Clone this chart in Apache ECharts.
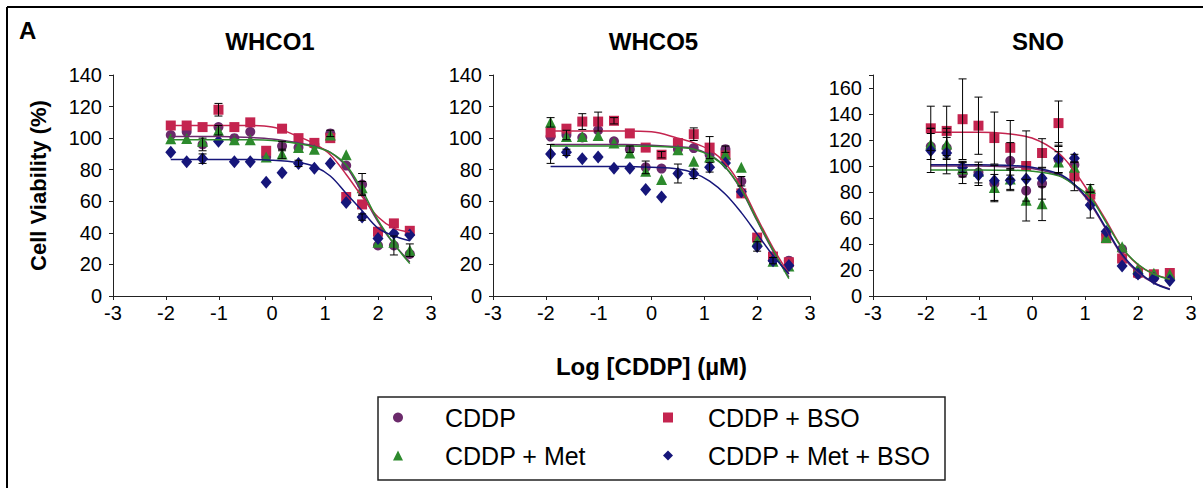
<!DOCTYPE html>
<html><head><meta charset="utf-8">
<script src="https://cdn.jsdelivr.net/npm/echarts@6/dist/echarts.min.js"></script>
<style>html,body{margin:0;padding:0;background:#fff}#c{width:1203px;height:488px}</style>
</head><body><div id="c"></div>
<script>
// ---- data ----
const logDose = [-1.91,-1.61,-1.31,-1.01,-0.71,-0.41,-0.11,0.19,0.50,0.80,1.10,1.40,1.70,2.00,2.30,2.60];
const fitX    = [-1.91,-1.0,-0.5,0,0.5,0.8,1.1,1.4,1.7,2.0,2.3,2.6];
const seriesNames = ['CDDP','CDDP + BSO','CDDP + Met','CDDP + Met + BSO'];
const panelTitles = ['WHCO1','WHCO5','SNO'];
const xTickValues = [-3,-2,-1,0,1,2,3];
const yMaxes = [140,140,170];

// WHCO1
const whco1Cddp   = [102,104,96,107,100,104,88,95,94,96,103,82.6,70.6,32,32,26.6];
const whco1Bso    = [108,108,107,118,107,110,92,106,100,97,100,62.7,58,40.7,46,41.3];
const whco1Met    = [99.6,99.8,98,105,99,99,88,90,94,93,102,89.5,68.5,34,34,29];
const whco1MetBso = [91,85,87,98,85,85,72,78,84,81,84,59.3,50,36.5,39.6,38.6];
const whco1CddpErr   = [0,0,4,0,0,0,0,3,0,0,2,0,7,0,6,0];
const whco1BsoErr    = [0,0,0,4,0,0,0,0,0,0,0,0,0,0,0,0];
const whco1MetErr    = [0,0,0,3,0,0,0,3,0,0,0,0,4,0,0,4];
const whco1MetBsoErr = [0,0,3,0,0,0,0,0,2,0,0,0,2,0,0,0];
const whco1CddpFit   = [101,101,100.5,99.5,97,95,91,82,65,47,33,21.5];
const whco1BsoFit    = [108,108,108,107,101,96.5,89.5,77,63,50,43,40.5];
const whco1MetFit    = [99,99,99,98.5,96.5,94.5,91,83,67,48,33,20.5];
const whco1MetBsoFit = [86.5,86.5,86.5,86,84.5,82,76,65,54,43,38,35];

// WHCO5
const whco5Cddp   = [101,102,100.4,105,98,93,81.5,80.7,93,93.7,89.5,93,72.7,36,23.5,22.4];
const whco5Bso    = [103.6,106,110.5,110.5,111,103,94,89.5,96.9,102.5,94,89,65,37,25,21.4];
const whco5Met    = [110,101,101,101.7,97,90.6,79,73.8,92.7,85.3,88,90,81.5,35,22,19];
const whco5MetBso = [90,91,87,88,81,81,67.5,62.7,77.6,77.4,81.5,84.3,66,31.4,22.4,19.3];
const whco5CddpErr   = [0,3,0,0,0,2,4,0,0,0,0,2,3,0,0,0];
const whco5BsoErr    = [0,0,5,6,2,0,0,2,0,4,7,0,0,0,0,0];
const whco5MetErr    = [3,0,0,0,0,0,0,0,0,0,0,0,0,0,0,0];
const whco5MetBsoErr = [6,2,0,0,0,0,0,0,6,3,3,0,0,3,2,0];
const whco5CddpFit   = [96,96,96,95.5,94.5,93.5,89.5,81.5,67,47.5,28.5,12];
const whco5BsoFit    = [104.5,104.5,104.5,104,100,97,92.5,84,69.5,49.5,30.5,14];
const whco5MetFit    = [95,95,95,94.8,94,93,89,81.5,67.5,48,29,11];
const whco5MetBsoFit = [82,82,82,81.5,80.5,78,72.7,64.4,52.8,39.2,25.6,14];

// SNO
const snoCddp   = [115,114,94.5,95,86.5,104,81,86.5,105,101,77.6,47.5,36,16.7,14,13.6];
const snoBso    = [129,127,136,131,121.5,114,100,110,133,92,78,44.4,28.8,18,16.7,17.7];
const snoMet    = [117,117,97.6,96,83.5,90,73.7,71,103,99,82.7,45,37.8,21.3,17.5,16.7];
const snoMetBso = [112,110,99,93,88.6,89,90,90.6,106,106,70,49.6,23,17,13.4,12];
const snoCddpErr   = [10,8,8,8,14,14,0,12,10,0,0,0,0,0,0,0];
const snoBsoErr    = [17,19,31,22,20,21,27,11,17,11,0,0,0,0,0,0];
const snoMetErr    = [12,12,6,0,10,8,16,13,8,0,3,0,0,0,0,0];
const snoMetBsoErr = [17,16,4,8,0,8,0,0,12,3,10,0,0,0,0,0];
const snoCddpFit   = [100,100,99.5,98,93,85,71,51,31,18,10,5.5];
const snoBsoFit    = [126,126,125,121.5,110,96,78,58,37,24,17,13];
const snoMetFit    = [97,97,96.8,96,92.4,85.5,75.8,56.5,37,24.4,16.7,12.8];
const snoMetBsoFit = [101,101,100.5,99,94,86,72,52,32,19,10,5];

// ---- styling ----
const FONT = "'Liberation Sans', Arial, sans-serif";
const colors  = ['#6b2a6b','#c4244f','#2d8a2d','#16167a'];
const symbols = ['circle','rect','triangle','diamond'];
const symSizes = [10,10,11,[11,13]];
const grids = [
  {left:113, top:75, width:318, height:221},
  {left:493, top:75, width:317, height:221},
  {left:873, top:75, width:318, height:221}
];

const panelPts  = [[whco1Cddp,whco1Bso,whco1Met,whco1MetBso],[whco5Cddp,whco5Bso,whco5Met,whco5MetBso],[snoCddp,snoBso,snoMet,snoMetBso]];
const panelErrs = [[whco1CddpErr,whco1BsoErr,whco1MetErr,whco1MetBsoErr],[whco5CddpErr,whco5BsoErr,whco5MetErr,whco5MetBsoErr],[snoCddpErr,snoBsoErr,snoMetErr,snoMetBsoErr]];
const panelFits = [[whco1CddpFit,whco1BsoFit,whco1MetFit,whco1MetBsoFit],[whco5CddpFit,whco5BsoFit,whco5MetFit,whco5MetBsoFit],[snoCddpFit,snoBsoFit,snoMetFit,snoMetBsoFit]];

const xAxes = grids.map((g,i)=>({
  type:'value', gridIndex:i, min:xTickValues[0], max:xTickValues[xTickValues.length-1], interval:1,
  splitLine:{show:false},
  axisLine:{onZero:false, lineStyle:{color:'#222', width:1}},
  axisTick:{show:true, length:4, lineStyle:{color:'#222'}},
  axisLabel:{color:'#000', fontSize:20, fontFamily:FONT, margin:7},
  name: i===1 ? 'Log [CDDP] (µM)' : '',
  nameLocation:'middle', nameGap:58,
  nameTextStyle:{fontSize:24, fontWeight:'bold', color:'#000', fontFamily:FONT}
}));
const yAxes = grids.map((g,i)=>({
  type:'value', gridIndex:i, min:0, max:yMaxes[i], interval:20,
  splitLine:{show:false},
  axisLine:{show:true, onZero:false, lineStyle:{color:'#222', width:1}},
  axisTick:{show:true, length:4, lineStyle:{color:'#222'}},
  axisLabel:{color:'#000', fontSize:20, fontFamily:FONT, margin:11,
    formatter: v => (v % 20 === 0 ? String(v) : '')},
  name: i===0 ? 'Cell Viability (%)' : '',
  nameLocation:'middle', nameRotate:90, nameGap:64,
  nameTextStyle:{fontSize:22, fontWeight:'bold', color:'#000', fontFamily:FONT}
}));

function renderErr(params, api){
  const x = api.value(0), lo = api.value(1), hi = api.value(2);
  const a = api.coord([x, lo]), b = api.coord([x, hi]);
  const w = 4, st = {stroke:'#000', lineWidth:1};
  return {type:'group', children:[
    {type:'line', shape:{x1:a[0],y1:a[1],x2:b[0],y2:b[1]}, style:st},
    {type:'line', shape:{x1:a[0]-w,y1:a[1],x2:a[0]+w,y2:a[1]}, style:st},
    {type:'line', shape:{x1:b[0]-w,y1:b[1],x2:b[0]+w,y2:b[1]}, style:st}
  ]};
}

const scatterSeries = [], lineSeries = [], errSeries = [];
for (let p=0;p<3;p++){
  for (let s=0;s<4;s++){
    scatterSeries.push({
      name:seriesNames[s], type:'scatter', xAxisIndex:p, yAxisIndex:p,
      symbol:symbols[s], symbolSize:symSizes[s],
      itemStyle:{color:colors[s], opacity:1},
      data: logDose.map((x,k)=>[x, panelPts[p][s][k]]), z:3
    });
    lineSeries.push({
      name:seriesNames[s], type:'line', xAxisIndex:p, yAxisIndex:p,
      smooth:0.35, showSymbol:false, symbol:'none',
      lineStyle:{color:colors[s], width:1.5}, itemStyle:{color:colors[s]},
      data: fitX.map((x,k)=>[x, panelFits[p][s][k]]), z:4
    });
    const ed = [];
    logDose.forEach((x,k)=>{ const e = panelErrs[p][s][k]; const v = panelPts[p][s][k];
      if (e>0) ed.push([x, v-e, v+e]); });
    errSeries.push({
      name:seriesNames[s], type:'custom', xAxisIndex:p, yAxisIndex:p,
      renderItem:renderErr, encode:{x:0, y:[1,2]}, data:ed, z:5, silent:true
    });
  }
}

const legendPos = [
  {left:393, top:405, pad:37},
  {left:663, top:405, pad:30},
  {left:393, top:443, pad:37},
  {left:663, top:443, pad:30}
];
const legends = [0,1,2,3].map((s,i)=>({
  data:[{name:seriesNames[s], icon:symbols[s], itemStyle:{color:colors[s]}}],
  left:legendPos[i].left, top:legendPos[i].top, itemWidth:10, itemHeight:10, padding:0,
  textStyle:{fontSize:25, color:'#000', fontFamily:FONT, padding:[0,0,0,legendPos[i].pad]}
}));

const chart = echarts.init(document.getElementById('c'), null, {renderer:'svg'});
chart.setOption({
  animation:false,
  backgroundColor:'#fff',
  grid:grids,
  xAxis:xAxes, yAxis:yAxes,
  legend:legends,
  series:[...scatterSeries, ...lineSeries, ...errSeries],
  graphic:[
    {type:'line', shape:{x1:7,y1:7,x2:1203,y2:7}, style:{stroke:'#000', lineWidth:2}},
    {type:'line', shape:{x1:7,y1:7,x2:7,y2:488}, style:{stroke:'#000', lineWidth:2}},
    {type:'rect', shape:{x:378,y:397,width:567,height:83}, style:{fill:'none', stroke:'#222', lineWidth:1.5}, z:-1},
    {type:'text', x:19, y:30, style:{text:'A', font:"bold 24px "+FONT, fill:'#000', textVerticalAlign:'middle'}},
    ...panelTitles.map((t,i)=>({type:'text', x:grids[i].left+grids[i].width/2 - [2,-2,-6][i], y:41,
      style:{text:t, font:"bold 24px "+FONT, fill:'#000', textAlign:'center', textVerticalAlign:'middle'}}))
  ]
});
</script></body></html>
